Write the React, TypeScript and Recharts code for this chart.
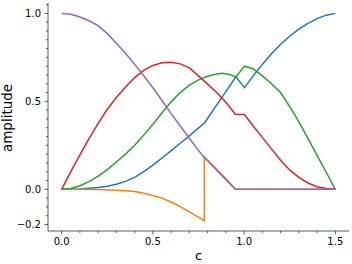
import React from "react"
import { Line, LineChart, XAxis, YAxis } from "recharts"

// sample positions and values
const blueX = [0, 0.1, 0.2, 0.25, 0.3, 0.35, 0.4, 0.45, 0.5, 0.55, 0.6, 0.65, 0.7, 0.785, 0.85, 0.9, 0.955, 1.002, 1.05, 1.1, 1.15, 1.2, 1.25, 1.3, 1.35, 1.4, 1.45, 1.5]
const blueY = [0, 0.002, 0.01, 0.018, 0.029, 0.045, 0.068, 0.1, 0.137, 0.178, 0.22, 0.262, 0.304, 0.38, 0.48, 0.555, 0.64, 0.578, 0.645, 0.71, 0.77, 0.825, 0.87, 0.91, 0.943, 0.97, 0.99, 1.0]

const orangeX = [0, 0.1, 0.2, 0.3, 0.35, 0.4, 0.45, 0.5, 0.55, 0.6, 0.65, 0.7, 0.75, 0.782, 0.782, 0.82, 0.87, 0.92, 0.952, 1.5]
const orangeY = [0, 0, -0.001, -0.005, -0.008, -0.013, -0.022, -0.035, -0.05, -0.072, -0.098, -0.128, -0.158, -0.178, 0.184, 0.145, 0.093, 0.038, 0, 0]

const greenX = [0, 0.05, 0.1, 0.15, 0.2, 0.25, 0.3, 0.35, 0.4, 0.45, 0.5, 0.55, 0.6, 0.65, 0.7, 0.75, 0.8, 0.85, 0.88, 0.92, 0.955, 1.002, 1.05, 1.1, 1.15, 1.2, 1.25, 1.3, 1.35, 1.4, 1.45, 1.5]
const greenY = [0, 0.005, 0.02, 0.044, 0.075, 0.112, 0.155, 0.2, 0.25, 0.308, 0.37, 0.435, 0.497, 0.55, 0.592, 0.622, 0.643, 0.656, 0.66, 0.653, 0.638, 0.7, 0.685, 0.645, 0.6, 0.55, 0.47, 0.385, 0.29, 0.193, 0.097, 0]

const redX = [0, 0.05, 0.1, 0.15, 0.2, 0.25, 0.3, 0.35, 0.4, 0.45, 0.5, 0.55, 0.6, 0.65, 0.7, 0.75, 0.8, 0.85, 0.9, 0.952, 1.002, 1.05, 1.1, 1.15, 1.2, 1.25, 1.3, 1.35, 1.4, 1.45, 1.5]
const redY = [0, 0.1, 0.196, 0.288, 0.375, 0.455, 0.522, 0.582, 0.635, 0.676, 0.704, 0.719, 0.722, 0.713, 0.69, 0.645, 0.598, 0.55, 0.495, 0.427, 0.425, 0.36, 0.295, 0.23, 0.165, 0.11, 0.068, 0.036, 0.015, 0.004, 0]

const purpleX = [0, 0.05, 0.1, 0.15, 0.2, 0.25, 0.3, 0.35, 0.4, 0.45, 0.5, 0.55, 0.6, 0.65, 0.7, 0.75, 0.78, 0.85, 0.9, 0.952, 1.5]
const purpleY = [1.0, 0.995, 0.979, 0.958, 0.93, 0.885, 0.83, 0.773, 0.71, 0.645, 0.577, 0.505, 0.43, 0.36, 0.29, 0.22, 0.184, 0.108, 0.055, 0, 0]

const xMajor = [0, 0.5, 1.0, 1.5]
const xMinor = [0.1, 0.2, 0.3, 0.4, 0.6, 0.7, 0.8, 0.9, 1.1, 1.2, 1.3, 1.4]
const yMajor = [-0.2, 0, 0.5, 1.0]
const yMinor = [-0.15, -0.1, -0.05, 0.05, 0.1, 0.15, 0.2, 0.25, 0.3, 0.35, 0.4, 0.45, 0.55, 0.6, 0.65, 0.7, 0.75, 0.8, 0.85, 0.9, 0.95, 1.05]

const toPoints = (xs: number[], ys: number[]) => xs.map((x, i) => ({ x, y: ys[i] }))

const series = [
  { name: "blue", color: "#1f77b4", data: toPoints(blueX, blueY) },
  { name: "orange", color: "#ff7f0e", data: toPoints(orangeX, orangeY) },
  { name: "green", color: "#2ca02c", data: toPoints(greenX, greenY) },
  { name: "red", color: "#d62728", data: toPoints(redX, redY) },
  { name: "purple", color: "#9467bd", data: toPoints(purpleX, purpleY) },
]

const AXIS = "#333"
const FONT = "DejaVu Sans"

const fmt = (v: number) => (v < 0 ? "\u2212" + Math.abs(v).toFixed(1) : v.toFixed(1))

const XTick = (props: any) => {
  const { x, y, payload } = props
  const major = xMajor.includes(payload.value)
  return (
    <g>
      <line x1={x} x2={x} y1={y} y2={y + (major ? 3.5 : 2)} stroke={AXIS} strokeWidth={0.8} />
      {major && (
        <text x={x} y={y + 14} textAnchor="middle" fontSize={10} fontFamily={FONT} fill="#000">
          {fmt(payload.value)}
        </text>
      )}
    </g>
  )
}

const YTick = (props: any) => {
  const { x, y, payload } = props
  const major = yMajor.includes(payload.value)
  return (
    <g>
      <line x1={x} x2={x - (major ? 3.5 : 2)} y1={y} y2={y} stroke={AXIS} strokeWidth={0.8} />
      {major && (
        <text x={x - 7} y={y + 3.6} textAnchor="end" fontSize={10} fontFamily={FONT} fill="#000">
          {fmt(payload.value)}
        </text>
      )}
    </g>
  )
}

const YTitle = () => (
  <text x={12} y={118} transform="rotate(-90 12 118)" textAnchor="middle" fontSize={13.5} fontFamily={FONT} fill="#000">
    amplitude
  </text>
)

export default function App() {
  return (
    <div style={{ position: "absolute", left: 0, top: 0, background: "#fff" }}>
      <LineChart width={352} height={264} margin={{ top: 3, right: 3, bottom: 0, left: 0 }}>
        <XAxis
          dataKey="x"
          type="number"
          domain={[-0.075, 1.575]}
          allowDataOverflow
          ticks={[...xMajor, ...xMinor]}
          interval={0}
          height={33}
          tickSize={0}
          tickMargin={0}
          tickLine={false}
          tick={<XTick />}
          axisLine={{ stroke: AXIS, strokeWidth: 0.8 }}
          label={{ value: "c", position: "insideBottom", offset: 4, fontSize: 13, fontFamily: FONT, fill: "#000" }}
        />
        <YAxis
          type="number"
          domain={[-0.237, 1.059]}
          allowDataOverflow
          ticks={[...yMajor, ...yMinor]}
          interval={0}
          width={48}
          tickSize={0}
          tickMargin={0}
          tickLine={false}
          tick={<YTick />}
          axisLine={{ stroke: AXIS, strokeWidth: 0.8 }}
          label={<YTitle />}
        />
        {series.map((s) => (
          <Line
            key={s.name}
            data={s.data}
            dataKey="y"
            type="linear"
            stroke={s.color}
            strokeWidth={1.5}
            dot={false}
            activeDot={false}
            isAnimationActive={false}
          />
        ))}
      </LineChart>
    </div>
  )
}
